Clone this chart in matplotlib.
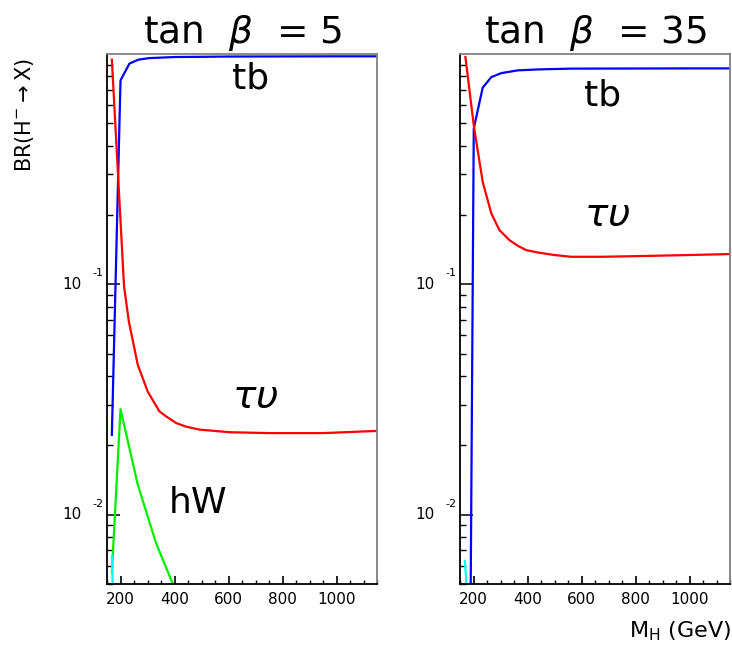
import matplotlib
matplotlib.use("Agg")
import matplotlib.pyplot as plt
from matplotlib.ticker import MultipleLocator, LogLocator, NullFormatter, FixedLocator
import matplotlib.transforms as mtransforms

# ---------------- data ----------------
# tan(beta) = 5
mh_tb_5 = [168, 200, 233, 266, 307, 400, 600, 800, 1000, 1150]
br_tb_5 = [0.0222, 0.768, 0.908, 0.945, 0.960, 0.970, 0.975, 0.976, 0.977, 0.977]
mh_taunu_5 = [168, 213, 231, 264, 301, 344, 369, 406, 443, 493, 604, 750, 950, 1150]
br_taunu_5 = [0.945, 0.0983, 0.0689, 0.0447, 0.0342, 0.0281, 0.0267, 0.0250, 0.0241,
              0.0234, 0.0228, 0.0226, 0.0226, 0.0231]
mh_hw_5 = [168, 200, 264, 301, 332, 394, 400]
br_hw_5 = [0.0056, 0.0287, 0.0135, 0.0098, 0.0075, 0.0050, 0.0048]
mh_cyan_5 = [168, 175]
br_cyan_5 = [0.0066, 0.0035]

# tan(beta) = 35
mh_tb_35 = [180, 201, 234, 266, 303, 364, 438, 562, 800, 1000, 1150]
br_tb_35 = [0.0001, 0.4745, 0.714, 0.794, 0.826, 0.849, 0.857, 0.864, 0.865, 0.866, 0.866]
mh_taunu_35 = [170, 201, 234, 266, 296, 333, 364, 395, 438, 500, 562, 673, 808, 993, 1148]
br_taunu_35 = [0.97, 0.49, 0.2786, 0.203, 0.172, 0.1556, 0.147, 0.1408, 0.1375, 0.134,
               0.1317, 0.1317, 0.1326, 0.134, 0.1353]
mh_cyan_35 = [168, 178]
br_cyan_35 = [0.0063, 0.0042]

titles = [r"tan  $\beta$  = 5", r"tan  $\beta$  = 35"]
xticks = [200, 400, 600, 800, 1000]
xticklabels = ["200", "400", "600", "800", "1000"]

# ---------------- figure ----------------
W, H = 732, 648
fig = plt.figure(figsize=(W / 100, H / 100), dpi=100)
plt.rcParams['font.family'] = ['DejaVu Sans']
plt.rcParams['mathtext.fontset'] = 'dejavusans'

def px_ax(l, r, t, b):
    return [l / W, 1 - b / H, (r - l) / W, (b - t) / H]

axL = fig.add_axes(px_ax(107, 377, 54, 584))
axR = fig.add_axes(px_ax(460, 730, 54, 584))

for ax, title in zip([axL, axR], titles):
    ax.set_yscale('log')
    ax.set_xlim(150, 1150)
    ax.set_ylim(0.005, 1.0)
    ax.set_xticks(xticks)
    ax.set_xticklabels(xticklabels, fontsize=11)
    ax.xaxis.set_minor_locator(MultipleLocator(50))
    ax.yaxis.set_major_locator(FixedLocator([0.01, 0.1]))
    ax.yaxis.set_minor_locator(LogLocator(base=10, subs=range(2, 10)))
    ax.yaxis.set_major_formatter(NullFormatter())
    ax.yaxis.set_minor_formatter(NullFormatter())
    ax.tick_params(axis='x', which='major', direction='in', length=6, width=1.2,
                   top=False, pad=6)
    ax.tick_params(axis='x', which='minor', direction='in', length=3, width=1,
                   top=False)
    ax.tick_params(axis='y', which='major', direction='in', length=9, width=1.1,
                   right=False)
    ax.tick_params(axis='y', which='minor', direction='in', length=4.3, width=1,
                   right=False)
    for s in ['left', 'bottom']:
        ax.spines[s].set_color('black')
        ax.spines[s].set_linewidth(1.3)
    for s in ['top', 'right']:
        ax.spines[s].set_color('#808080')
        ax.spines[s].set_linewidth(1.3)
    ax.set_title(title, fontsize=27, pad=8)
    # ROOT-style y tick labels
    trans_off = mtransforms.blended_transform_factory(ax.transAxes, ax.transData)
    for val, sup in [(0.1, "-1"), (0.01, "-2")]:
        ax.text(0, val, "10", transform=trans_off + mtransforms.ScaledTranslation(-25 / 100, 0, fig.dpi_scale_trans),
                ha='right', va='center', fontsize=11)
        ax.text(0, val, sup, transform=trans_off + mtransforms.ScaledTranslation(-15 / 100, 11 / 100, fig.dpi_scale_trans),
                ha='left', va='center', fontsize=8)

lw = 1.6
axL.plot(mh_tb_5, br_tb_5, color='#0000ff', lw=lw)
axL.plot(mh_taunu_5, br_taunu_5, color='#ff0000', lw=lw)
axL.plot(mh_hw_5, br_hw_5, color='#00ee00', lw=lw)
axL.plot(mh_cyan_5, br_cyan_5, color='#00ffff', lw=lw)

axR.plot(mh_tb_35, br_tb_35, color='#0000ff', lw=lw)
axR.plot(mh_taunu_35, br_taunu_35, color='#ff0000', lw=lw)
axR.plot(mh_cyan_35, br_cyan_35, color='#00ffff', lw=lw)

# channel labels
axL.text(681, 0.784, "tb", fontsize=26, ha='center', va='center')
axL.text(700, 0.0325, r"$\tau\upsilon$", fontsize=28, ha='center', va='center')
axL.text(489, 0.0112, "hW", fontsize=26, ha='center', va='center')
axR.text(678, 0.662, "tb", fontsize=26, ha='center', va='center')
axR.text(696, 0.1997, r"$\tau\upsilon$", fontsize=28, ha='center', va='center')

fig.text(25 / W, 1 - 115 / H, r"BR(H$^{-}$$\rightarrow$X)", rotation=90,
         ha='center', va='center', fontsize=15)
fig.text(731 / W, 1 - 631 / H, r"M$_{\mathrm{H}}$ (GeV)", ha='right', va='center',
         fontsize=16)

fig.savefig("out.png", dpi=100)
